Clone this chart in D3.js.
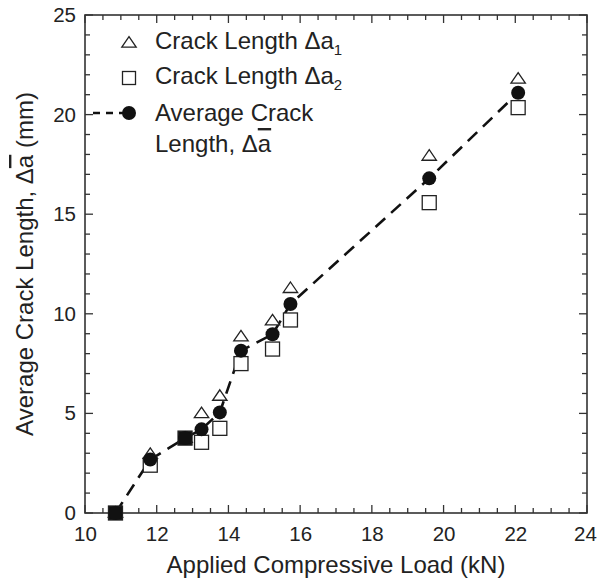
<!DOCTYPE html>
<html>
<head>
<meta charset="utf-8">
<script src="https://cdn.jsdelivr.net/npm/d3@7/dist/d3.min.js"></script>
<style>
  html, body { margin: 0; padding: 0; background: #fff; }
  svg text { font-family: "Liberation Sans", Arial, Helvetica, sans-serif; fill: #222; }
</style>
</head>
<body>
<svg id="chart" width="597" height="581"></svg>
<script>
// Applied compressive load (kN) at each measurement
const load = [10.85, 11.82, 12.79, 13.25, 13.76, 14.35, 15.23, 15.73, 19.60, 22.08];
// Crack length Δa1 (mm)
const crackA1 = [0, 2.95, 3.76, 5.0, 5.87, 8.85, 9.65, 11.28, 17.92, 21.79];
// Crack length Δa2 (mm)
const crackA2 = [0, 2.4, 3.76, 3.55, 4.25, 7.5, 8.23, 9.69, 15.58, 20.35];
// Average crack length (mm)
const crackAvg = [0, 2.68, 3.76, 4.2, 5.05, 8.15, 8.97, 10.49, 16.8, 21.1];

const xTicks = [10, 12, 14, 16, 18, 20, 22, 24];
const yTicks = [0, 5, 10, 15, 20, 25];

const svg = d3.select("#chart");
const pLeft = 85, pRight = 587, pTop = 15, pBottom = 513;

const x = d3.scaleLinear().domain([10, 24]).range([pLeft, pRight]);
const y = d3.scaleLinear().domain([0, 25]).range([pBottom, pTop]);

const axisColor = "#333";

// Frame
svg.append("rect")
  .attr("x", pLeft).attr("y", pTop)
  .attr("width", pRight - pLeft).attr("height", pBottom - pTop)
  .attr("fill", "none").attr("stroke", axisColor).attr("stroke-width", 1.6);

// Inward ticks on all four sides (major + minor)
const xMinor = d3.range(10, 24.01, 0.5).filter(v => !xTicks.includes(v));
const yMinor = d3.range(0, 25.01, 1).filter(v => !yTicks.includes(v));
const tickG = svg.append("g").attr("stroke", axisColor).attr("stroke-width", 1.3);

function xTickMarks(vals, len) {
  vals.forEach(v => {
    tickG.append("line").attr("x1", x(v)).attr("x2", x(v)).attr("y1", pBottom).attr("y2", pBottom - len);
    tickG.append("line").attr("x1", x(v)).attr("x2", x(v)).attr("y1", pTop).attr("y2", pTop + len);
  });
}
function yTickMarks(vals, len) {
  vals.forEach(v => {
    tickG.append("line").attr("y1", y(v)).attr("y2", y(v)).attr("x1", pLeft).attr("x2", pLeft + len);
    tickG.append("line").attr("y1", y(v)).attr("y2", y(v)).attr("x1", pRight).attr("x2", pRight - len);
  });
}
xTickMarks(xTicks, 8); xTickMarks(xMinor, 5);
yTickMarks(yTicks, 8); yTickMarks(yMinor, 5);

// Tick labels via d3 axes (tick lines hidden, frame drawn above)
const xAxis = svg.append("g").attr("transform", `translate(0,${pBottom})`)
  .call(d3.axisBottom(x).tickValues(xTicks).tickSize(0).tickPadding(13).tickFormat(d3.format("d")));
const yAxis = svg.append("g").attr("transform", `translate(${pLeft},0)`)
  .call(d3.axisLeft(y).tickValues(yTicks).tickSize(0).tickPadding(9).tickFormat(d3.format("d")));
[xAxis, yAxis].forEach(g => {
  g.select(".domain").remove();
  g.selectAll("text").attr("font-size", 20.5).attr("fill", "#222")
    .attr("font-family", "'Liberation Sans', Arial, sans-serif");
});
// keep the last x label inside the canvas edge
xAxis.selectAll(".tick").filter(d => d === 24).select("text").attr("dx", -2);

// Axis titles
svg.append("text")
  .attr("x", (pLeft + pRight) / 2).attr("y", 573)
  .attr("text-anchor", "middle").attr("font-size", 24)
  .text("Applied Compressive Load (kN)");

const yTitle = svg.append("text")
  .attr("transform", `translate(33,${(pTop + pBottom) / 2}) rotate(-90)`)
  .attr("text-anchor", "middle").attr("font-size", 24);
yTitle.append("tspan").text("Average Crack Length, Δ");
yTitle.append("tspan").style("text-decoration", "overline").text("a");
yTitle.append("tspan").text(" (mm)");

// Marker shapes
const triPath = (cx, cy) => {
  const w = 7.2, h = 10.5;
  return `M${cx},${cy - h * 0.6}L${cx + w},${cy + h * 0.4}L${cx - w},${cy + h * 0.4}Z`;
};
const sq = 14;

// Dashed average curve
const pts = load.map((d, i) => [x(d), y(crackAvg[i])]);
svg.append("path")
  .attr("d", d3.line()(pts))
  .attr("fill", "none").attr("stroke", "#111").attr("stroke-width", 2.6)
  .attr("stroke-dasharray", "13,8");

// Δa1 triangles
svg.append("g").selectAll("path").data(load).join("path")
  .attr("d", (d, i) => triPath(x(d), y(crackA1[i])))
  .attr("fill", "#fff").attr("stroke", "#222").attr("stroke-width", 1.3);

// Δa2 squares (solid where they coincide with the average)
svg.append("g").selectAll("rect").data(load).join("rect")
  .attr("x", d => x(d) - sq / 2)
  .attr("y", (d, i) => y(crackA2[i]) - sq / 2)
  .attr("width", sq).attr("height", sq)
  .attr("fill", (d, i) => Math.abs(crackA2[i] - crackAvg[i]) < 0.05 ? "#111" : "#fff")
  .attr("stroke", "#222").attr("stroke-width", 1.3);

// Average circles
svg.append("g").selectAll("circle").data(load).join("circle")
  .attr("cx", d => x(d)).attr("cy", (d, i) => y(crackAvg[i]))
  .attr("r", 7).attr("fill", "#111");

// Legend
const lg = svg.append("g");
const lx = 129;
lg.append("path").attr("d", triPath(lx, 43)).attr("fill", "#fff").attr("stroke", "#222").attr("stroke-width", 1.3);
lg.append("rect").attr("x", lx - 6.5).attr("y", 78 - 6.5).attr("width", 13).attr("height", 13)
  .attr("fill", "#fff").attr("stroke", "#222").attr("stroke-width", 1.3);
lg.append("line").attr("x1", 93).attr("x2", lx).attr("y1", 113).attr("y2", 113)
  .attr("stroke", "#111").attr("stroke-width", 2.6).attr("stroke-dasharray", "7,6");
lg.append("circle").attr("cx", lx).attr("cy", 113).attr("r", 7).attr("fill", "#111");

function legendText(yb, main, sub) {
  const t = lg.append("text").attr("x", 155).attr("y", yb).attr("font-size", 24);
  t.append("tspan").text(main);
  if (sub) t.append("tspan").attr("font-size", 15).attr("dy", 6).text(sub);
  return t;
}
legendText(49, "Crack Length Δa", "1");
legendText(84, "Crack Length Δa", "2");
legendText(121, "Average Crack");
const t4 = lg.append("text").attr("x", 155).attr("y", 152).attr("font-size", 24);
t4.append("tspan").text("Length, Δ");
t4.append("tspan").style("text-decoration", "overline").text("a");
</script>
</body>
</html>
